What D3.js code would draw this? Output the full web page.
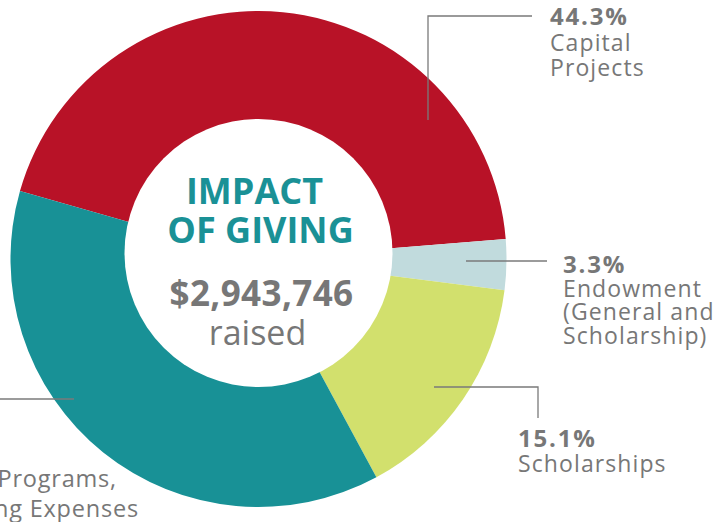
<!DOCTYPE html>
<html>
<head>
<meta charset="utf-8">
<script src="https://cdn.jsdelivr.net/npm/d3@7"></script>
<style>
    body { margin: 0; background: #fff; }
    svg { display: block; font-family: "Open Sans", sans-serif; }
</style>
</head>
<body>
<div id="container"></div>
<script>
    // chart values
    const categories = ["Capital Projects", "Endowment (General and Scholarship)", "Scholarships", "Student Programs, Operating Expenses"];
    const shares = [44.3, 3.3, 15.1, 37.3];
    const labelLines = [["Capital", "Projects"], ["Endowment", "(General and", "Scholarship)"], ["Scholarships"], ["Student Programs,", "Operating Expenses"]];
    const totalRaised = 2943746;

    const colors = ["#b81227", "#c1dbdd", "#d2e06d", "#189196"];
    const textGray = "#777";

    const width = 715, height = 522;
    const cx = 258.5, cy = 259;
    const outerR = 248;
    // the white hole sits a little above the ring centre in the original
    const hole = { x: 258.5, y: 253, r: 134 };
    const startDeg = -74.1;

    // label layout: leader polyline + text position for each slice
    // (the last label runs off the left edge, as in the original, so only its end is placed)
    const labelLayout = [
        { path: [[428, 120], [428, 16], [532, 16]], x: 550, y: 25, anchor: "start", step: 25.5 },
        { path: [[466, 261], [547, 261]], x: 563, y: 273, anchor: "start", step: 23.5 },
        { path: [[434, 387], [538, 387], [538, 418]], x: 518, y: 447, anchor: "start", step: 25 },
        { path: [[74, 399], [-20, 399]], y: 487, anchor: "end", step: 30, ends: [117, 139] }
    ];

    const data = categories.map((c, i) => ({ name: c, value: shares[i], lines: labelLines[i], color: colors[i] }));

    const svg = d3.select("#container").append("svg")
        .attr("width", width)
        .attr("height", height);

    const pie = d3.pie()
        .sort(null)
        .value(d => d.value)
        .startAngle(startDeg * Math.PI / 180)
        .endAngle(startDeg * Math.PI / 180 + 2 * Math.PI);

    const arc = d3.arc().innerRadius(0).outerRadius(outerR);

    svg.append("g")
        .attr("transform", `translate(${cx},${cy})`)
        .selectAll("path")
        .data(pie(data))
        .join("path")
        .attr("d", arc)
        .attr("fill", d => d.data.color);

    svg.append("circle")
        .attr("cx", hole.x)
        .attr("cy", hole.y)
        .attr("r", hole.r)
        .attr("fill", "#fff");

    // centre text
    const centre = svg.append("g").attr("text-anchor", "middle");
    centre.append("text")
        .attr("x", hole.x - 4).attr("y", 204)
        .attr("fill", "#1a9196").attr("font-weight", 700).attr("font-size", 36)
        .text("IMPACT");
    centre.append("text")
        .attr("x", hole.x + 2).attr("y", 243)
        .attr("fill", "#1a9196").attr("font-weight", 700).attr("font-size", 36)
        .text("OF GIVING");
    centre.append("text")
        .attr("x", hole.x + 3).attr("y", 306)
        .attr("fill", textGray).attr("font-weight", 700).attr("font-size", 35)
        .attr("letter-spacing", 0.4)
        .text("$" + d3.format(",")(totalRaised));
    centre.append("text")
        .attr("x", hole.x - 1).attr("y", 345)
        .attr("fill", textGray).attr("font-weight", 400).attr("font-size", 34)
        .text("raised");

    // leaders and labels
    const line = d3.line();
    const labels = svg.append("g");

    data.forEach((d, i) => {
        const L = labelLayout[i];
        labels.append("path")
            .attr("d", line(L.path))
            .attr("fill", "none")
            .attr("stroke", "#7a7a7a")
            .attr("stroke-width", 1.3);

        const t = labels.append("g").attr("fill", textGray).attr("text-anchor", L.anchor);
        if (L.anchor === "end") {
            d.lines.forEach((s, j) => {
                t.append("text")
                    .attr("x", L.ends[j]).attr("y", L.y + j * L.step)
                    .attr("font-size", 23.5).attr("letter-spacing", 0.8)
                    .text(s);
            });
        } else {
            t.append("text")
                .attr("x", L.x).attr("y", L.y)
                .attr("font-weight", 700).attr("font-size", 24).attr("letter-spacing", 1.8)
                .text(d.value + "%");
            d.lines.forEach((s, j) => {
                t.append("text")
                    .attr("x", L.x).attr("y", L.y + (j + 1) * L.step)
                    .attr("font-size", 23).attr("letter-spacing", 1.1)
                    .text(s);
            });
        }
    });
</script>
</body>
</html>
